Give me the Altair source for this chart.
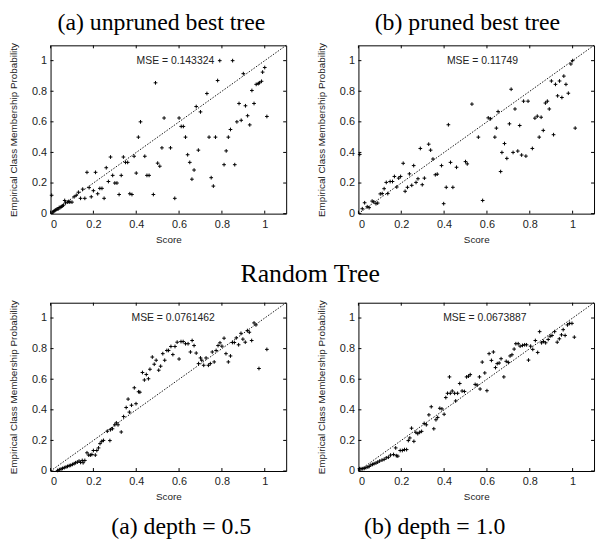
import altair as alt
import pandas as pd

# ---------------- data ----------------
TICKS = [0, 0.2, 0.4, 0.6, 0.8, 1]

a_x = [0.005, 0.01, 0.015, 0.02, 0.025, 0.03, 0.035, 0.04, 0.045, 0.05,
       0.055, 0.06, 0.066, 0.07, 0.08, 0.085, 0.09, 0.1, 0.11, 0.12,
       0.13, 0.14, 0.15, 0.16, 0.17, 0.18, 0.19, 0.20, 0.21, 0.22,
       0.23, 0.24, 0.25, 0.26, 0.27, 0.28, 0.29, 0.30, 0.31, 0.32,
       0.33, 0.34, 0.35, 0.36, 0.37, 0.38, 0.39, 0.40, 0.41, 0.42,
       0.44, 0.45, 0.46, 0.48, 0.49, 0.50, 0.51, 0.52, 0.53, 0.56,
       0.58, 0.60, 0.61, 0.62, 0.63, 0.64, 0.65, 0.66, 0.67, 0.68,
       0.69, 0.70, 0.73, 0.74, 0.75, 0.76, 0.77, 0.78, 0.79, 0.81,
       0.82, 0.83, 0.84, 0.85, 0.86, 0.87, 0.88, 0.89, 0.90, 0.91,
       0.92, 0.93, 0.94, 0.95, 0.96, 0.97, 0.975, 0.985, 0.99, 1.0,
       1.01]
a_y = [0.12, 0.01, 0.015, 0.02, 0.025, 0.03, 0.03, 0.04, 0.04, 0.045,
       0.05, 0.055, 0.086, 0.07, 0.075, 0.08, 0.075, 0.075, 0.11, 0.12,
       0.14, 0.10, 0.16, 0.10, 0.27, 0.17, 0.11, 0.15, 0.27, 0.13,
       0.165, 0.165, 0.10, 0.30, 0.21, 0.37, 0.25, 0.20, 0.20, 0.125,
       0.25, 0.37, 0.335, 0.335, 0.13, 0.125, 0.375, 0.265, 0.50, 0.60,
       0.375, 0.25, 0.25, 0.125, 0.855, 0.33, 0.31, 0.43, 0.625, 0.43,
       0.10, 0.625, 0.57, 0.57, 0.50, 0.385, 0.335, 0.225, 0.285, 0.70,
       0.415, 0.665, 0.785, 0.50, 0.235, 0.18, 0.50, 0.87, 1.0, 0.32,
       0.41, 0.50, 0.55, 1.0, 0.32, 0.60, 0.72, 0.61, 0.915, 0.705,
       0.64, 0.58, 0.805, 0.72, 0.845, 0.85, 0.855, 0.865, 0.925, 0.955,
       0.635]

b_x = [0.006, 0.018, 0.029, 0.041, 0.05, 0.064, 0.072, 0.082, 0.09, 0.102,
       0.111, 0.12, 0.13, 0.137, 0.148, 0.159, 0.168, 0.179, 0.188, 0.197,
       0.209, 0.218, 0.229, 0.238, 0.249, 0.258, 0.269, 0.278, 0.289, 0.298,
       0.308, 0.328, 0.337, 0.348, 0.359, 0.368, 0.388, 0.398, 0.41, 0.42,
       0.43, 0.441, 0.458, 0.50, 0.508, 0.53, 0.56, 0.58, 0.606, 0.617,
       0.637, 0.644, 0.652, 0.664, 0.67, 0.682, 0.693, 0.705, 0.713, 0.722,
       0.731, 0.744, 0.753, 0.762, 0.771, 0.782, 0.792, 0.812, 0.824, 0.835,
       0.844, 0.853, 0.863, 0.873, 0.882, 0.891, 0.901, 0.911, 0.92, 0.93,
       0.939, 0.95, 0.959, 0.969, 0.98, 0.992, 1.0, 1.012]
b_y = [0.387, 0.032, 0.071, 0.045, 0.039, 0.082, 0.077, 0.065, 0.069, 0.129,
       0.131, 0.163, 0.204, 0.131, 0.21, 0.21, 0.243, 0.174, 0.232, 0.243,
       0.329, 0.146, 0.172, 0.26, 0.185, 0.314, 0.204, 0.228, 0.426, 0.189,
       0.232, 0.454, 0.415, 0.357, 0.254, 0.258, 0.314, 0.065, 0.172, 0.581,
       0.335, 0.172, 0.303, 0.34, 0.325, 0.716, 0.50, 0.086, 0.626, 0.62,
       0.50, 0.559, 0.667, 0.275, 0.40, 0.458, 0.361, 0.587, 0.813, 0.40,
       0.684, 0.409, 0.576, 0.383, 0.735, 0.376, 0.735, 0.426, 0.624, 0.637,
       0.50, 0.63, 0.544, 0.723, 0.735, 0.684, 0.867, 0.516, 0.845, 0.77,
       0.867, 0.759, 0.899, 0.845, 0.787, 0.978, 1.0, 0.559]

c_x = [0.033, 0.041, 0.049, 0.056, 0.064, 0.072, 0.079, 0.087, 0.094, 0.102,
       0.11, 0.117, 0.125, 0.133, 0.14, 0.148, 0.152, 0.16, 0.17, 0.178,
       0.186, 0.193, 0.20, 0.209, 0.216, 0.224, 0.231, 0.239, 0.247, 0.265,
       0.277, 0.28, 0.289, 0.30, 0.307, 0.315, 0.33, 0.341, 0.353, 0.362,
       0.368, 0.378, 0.391, 0.399, 0.411, 0.417, 0.429, 0.438, 0.447, 0.457,
       0.464, 0.475, 0.484, 0.493, 0.505, 0.514, 0.524, 0.533, 0.543, 0.551,
       0.562, 0.571, 0.581, 0.591, 0.60, 0.609, 0.619, 0.63, 0.642, 0.653,
       0.661, 0.67, 0.68, 0.691, 0.70, 0.706, 0.715, 0.726, 0.737, 0.746,
       0.755, 0.764, 0.773, 0.782, 0.791, 0.80, 0.81, 0.819, 0.83, 0.84,
       0.849, 0.858, 0.867, 0.878, 0.889, 0.898, 0.909, 0.919, 0.928, 0.939,
       0.95, 0.959, 0.973, 1.01]
c_y = [0.004, 0.009, 0.013, 0.017, 0.022, 0.026, 0.03, 0.035, 0.037, 0.043,
       0.048, 0.054, 0.058, 0.065, 0.056, 0.069, 0.054, 0.069, 0.119, 0.104,
       0.104, 0.108, 0.134, 0.104, 0.134, 0.151, 0.179, 0.194, 0.20, 0.26,
       0.199, 0.27, 0.276, 0.302, 0.315, 0.302, 0.255, 0.356, 0.415, 0.47,
       0.385, 0.43, 0.544, 0.44, 0.518, 0.515, 0.644, 0.595, 0.631, 0.603,
       0.665, 0.745, 0.698, 0.724, 0.659, 0.685, 0.767, 0.724, 0.788, 0.788,
       0.814, 0.761, 0.814, 0.842, 0.732, 0.846, 0.846, 0.832, 0.832, 0.778,
       0.853, 0.82, 0.771, 0.702, 0.739, 0.724, 0.691, 0.739, 0.691, 0.702,
       0.778, 0.713, 0.788, 0.82, 0.838, 0.816, 0.868, 0.767, 0.713, 0.752,
       0.84, 0.84, 0.87, 0.825, 0.90, 0.862, 0.842, 0.918, 0.907, 0.853,
       0.968, 0.955, 0.67, 0.795]

d_x = [0.005, 0.012, 0.02, 0.027, 0.035, 0.044, 0.05, 0.058, 0.066, 0.073,
       0.082, 0.09, 0.099, 0.11, 0.12, 0.13, 0.14, 0.15, 0.164, 0.174,
       0.177, 0.184, 0.195, 0.205, 0.215, 0.225, 0.233, 0.24, 0.248, 0.259,
       0.268, 0.277, 0.286, 0.295, 0.307, 0.317, 0.329, 0.34, 0.352, 0.362,
       0.37, 0.38, 0.39, 0.40, 0.408, 0.416, 0.425, 0.429, 0.438, 0.449,
       0.454, 0.463, 0.473, 0.484, 0.495, 0.505, 0.514, 0.522, 0.545, 0.554,
       0.568, 0.565, 0.578, 0.59, 0.60, 0.61, 0.621, 0.63, 0.64, 0.648,
       0.657, 0.666, 0.679, 0.69, 0.70, 0.708, 0.717, 0.727, 0.735, 0.746,
       0.755, 0.766, 0.776, 0.785, 0.794, 0.804, 0.814, 0.826, 0.837, 0.846,
       0.855, 0.864, 0.874, 0.886, 0.895, 0.904, 0.916, 0.928, 0.938, 0.948,
       0.956, 0.965, 0.976, 0.986, 0.997, 1.008]
d_y = [0.015, 0.015, 0.015, 0.017, 0.022, 0.026, 0.03, 0.039, 0.043, 0.048,
       0.052, 0.058, 0.065, 0.071, 0.076, 0.086, 0.09, 0.104, 0.108, 0.151,
       0.10, 0.097, 0.134, 0.134, 0.14, 0.14, 0.199, 0.216, 0.28, 0.194,
       0.253, 0.244, 0.253, 0.259, 0.311, 0.302, 0.367, 0.42, 0.276, 0.335,
       0.35, 0.41, 0.406, 0.371, 0.48, 0.508, 0.615, 0.508, 0.523, 0.508,
       0.458, 0.508, 0.572, 0.523, 0.52, 0.615, 0.62, 0.63, 0.566, 0.562,
       0.536, 0.615, 0.712, 0.641, 0.525, 0.767, 0.723, 0.778, 0.676, 0.702,
       0.706, 0.734, 0.615, 0.717, 0.71, 0.752, 0.76, 0.797, 0.832, 0.832,
       0.816, 0.821, 0.825, 0.825, 0.725, 0.816, 0.795, 0.853, 0.775, 0.911,
       0.838, 0.847, 0.838, 0.86, 0.881, 0.886, 0.911, 0.842, 0.864, 0.89,
       0.924, 0.886, 0.955, 0.965, 0.965, 0.875]

MSE_LABELS = ["MSE = 0.143324", "MSE = 0.11749", "MSE = 0.0761462", "MSE = 0.0673887"]
CAPTIONS = ["(a) unpruned best tree", "(b) pruned best tree", "(a) depth = 0.5", "(b) depth = 1.0"]
MIDDLE_TITLE = "Random Tree"

# ---------------- styling ----------------
W, H = 238, 170
SANS = "Liberation Sans"
SERIF = "Liberation Serif"
TEXT_COL = "#222222"
PLUS = "M-1,0L1,0M0,-1L0,1"

XAXIS = alt.Axis(values=TICKS, format="~g", title="Score", labelPadding=5,
                 titlePadding=5)
YAXIS = alt.Axis(values=TICKS, format="~g",
                 title="Empirical Class Membership Probability",
                 labelPadding=4, titlePadding=13)


def panel(xs, ys, mse_text, mse_x, title):
    df = pd.DataFrame({"score": xs, "prob": ys})
    diag = pd.DataFrame({"score": [0, 1.1], "prob": [0, 1.1]})
    ticks = pd.DataFrame({"score": TICKS, "prob": TICKS})
    mse = pd.DataFrame({"score": [mse_x], "prob": [1.0], "label": [mse_text]})

    xs_ = alt.Scale(domain=[0, 1.1], nice=False, zero=False)
    ys_ = alt.Scale(domain=[0, 1.1], nice=False, zero=False)
    X = alt.X("score:Q", scale=xs_, axis=XAXIS)
    Y = alt.Y("prob:Q", scale=ys_, axis=YAXIS)

    pts = alt.Chart(df).mark_point(shape=PLUS, size=14, filled=False,
                                   color="black", strokeWidth=1, opacity=1).encode(x=X, y=Y)
    line = alt.Chart(diag).mark_line(color="black", strokeWidth=0.9,
                                     strokeDash=[1.5, 1.5]).encode(x=X, y=Y)
    tb = alt.Chart(ticks).mark_rule(color="black", strokeWidth=1).encode(
        x=X, y=alt.value(H), y2=alt.value(H - 3))
    tt = alt.Chart(ticks).mark_rule(color="black", strokeWidth=1).encode(
        x=X, y=alt.value(0), y2=alt.value(3))
    tl = alt.Chart(ticks).mark_rule(color="black", strokeWidth=1).encode(
        y=Y, x=alt.value(0), x2=alt.value(3))
    tr = alt.Chart(ticks).mark_rule(color="black", strokeWidth=1).encode(
        y=Y, x=alt.value(W), x2=alt.value(W - 3))
    txt = alt.Chart(mse).mark_text(align="right", baseline="middle", font=SANS,
                                   fontSize=10.5, color=TEXT_COL).encode(
        x=X, y=Y, text="label:N")
    return alt.layer(pts, line, tb, tt, tl, tr, txt).properties(
        width=W, height=H, title=title)


def cap(text, orient, dx, offset):
    return alt.TitleParams(text=text, orient=orient, anchor="middle", frame="group",
                           font=SERIF, fontSize=24, fontWeight="normal",
                           color="black", baseline="alphabetic", dx=dx, offset=offset)


pa = panel(a_x, a_y, MSE_LABELS[0], 0.764, cap(CAPTIONS[0], "top", -7, -12))
pb = panel(b_x, b_y, MSE_LABELS[1], 0.745, cap(CAPTIONS[1], "top", -9, -12))
pc = panel(c_x, c_y, MSE_LABELS[2], 0.767, cap(CAPTIONS[2], "bottom", 13, 33))
pd_ = panel(d_x, d_y, MSE_LABELS[3], 0.785, cap(CAPTIONS[3], "bottom", -42, 33))

top = alt.hconcat(pa, pb, spacing=27)
bottom = alt.hconcat(pc, pd_, spacing=27).properties(
    title=alt.TitleParams(text=MIDDLE_TITLE, anchor="middle", frame="bounds",
                          font=SERIF, fontSize=26, fontWeight="normal",
                          color="black", baseline="alphabetic", dx=8, offset=-9))

chart = alt.vconcat(top, bottom, spacing=16).properties(padding=0).configure_view(
    stroke="black", strokeWidth=1
).configure_axis(
    labelFont=SANS, labelFontSize=11, labelColor=TEXT_COL,
    titleFont=SANS, titleFontSize=10, titleFontWeight="normal", titleColor=TEXT_COL,
    ticks=False, domain=False, grid=False,
)

chart.save("out.html", embed_options={"renderer": "svg", "actions": False})
